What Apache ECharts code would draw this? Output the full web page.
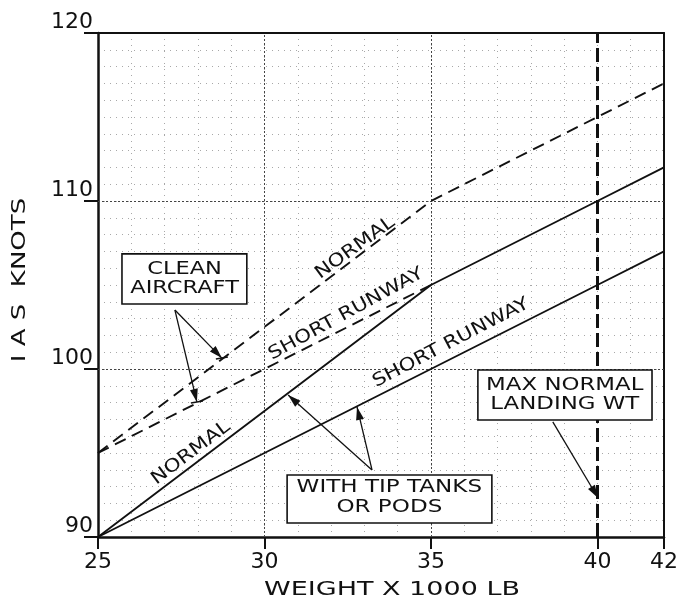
<!DOCTYPE html>
<html><head><meta charset="utf-8">
<script src="https://cdn.jsdelivr.net/npm/echarts@6/dist/echarts.min.js"></script>
<style>html,body{margin:0;padding:0;background:#fff}#c{width:682px;height:608px}</style>
</head><body><div id="c"></div>
<script>
// ---- data ----
const weights = [25, 30, 35, 40, 42];            // x 1000 lb
const cleanNormal = [95, 102.5, 110, 115, 117];  // clean aircraft, normal (dashed)
const cleanShortWeights = [25, 30, 35];
const cleanShort = [95, 100, 105];               // clean aircraft, short runway (dashed)
const tipNormal = [90, 97.5, 105, 110, 112];     // tip tanks/pods, normal (solid)
const tipShort = [90, 95, 100, 105, 107];        // tip tanks/pods, short runway (solid)
const xTickLabels = [25, 30, 35, 40, 42];
const yTickLabels = [90, 100, 110, 120];
const majorX = [30, 35];
const majorY = [100, 110];
const maxLandingWt = 40;

const FONT = 'DejaVu Sans';
const INK = '#111';
const chart = echarts.init(document.getElementById('c'));
const pairs = (xs, ys) => xs.map((x, i) => [x, ys[i]]);

const minorLine = { show: true, lineStyle: { color: '#a8a8a8', width: 1, type: [1, 5] } };
const majorStyle = { color: '#444', width: 1, type: [2, 2] };

const markData = majorX.map(v => ({ xAxis: v, lineStyle: majorStyle }))
  .concat(majorY.map(v => ({ yAxis: v, lineStyle: majorStyle })))
  .concat([{ xAxis: maxLandingWt, lineStyle: { color: INK, width: 3, type: [14, 5] } }]);

chart.setOption({
  animation: false,
  backgroundColor: '#fff',
  grid: { left: 98, right: 18, top: 33, bottom: 71 },
  xAxis: [{
    type: 'value', min: 25, max: 42, interval: 1, position: 'bottom',
    axisLine: { lineStyle: { color: INK, width: 2.5 } },
    axisTick: { show: true, customValues: xTickLabels, length: 12, lineStyle: { color: INK, width: 2 } },
    axisLabel: { customValues: xTickLabels, fontSize: 22, fontFamily: FONT, color: INK, margin: 14 },
    splitLine: { show: false }
  }, {
    type: 'value', min: 25, max: 42, interval: 1, position: 'top',
    axisLine: { show: true, lineStyle: { color: INK, width: 2 } },
    axisTick: { show: false }, axisLabel: { show: false }, splitLine: minorLine
  }],
  yAxis: [{
    type: 'value', min: 90, max: 120, interval: 1, position: 'left',
    axisLine: { show: true, lineStyle: { color: INK, width: 2.5 } },
    axisTick: { show: true, customValues: yTickLabels, length: 14, lineStyle: { color: INK, width: 2 } },
    axisLabel: { customValues: yTickLabels, fontSize: 22, fontFamily: FONT, color: INK, margin: 5, verticalAlign: 'bottom' },
    splitLine: { show: false }
  }, {
    type: 'value', min: 90, max: 120, interval: 1, position: 'right',
    axisLine: { show: true, lineStyle: { color: INK, width: 2 } },
    axisTick: { show: false }, axisLabel: { show: false }, splitLine: minorLine
  }],
  series: [
    { name: 'Clean normal', type: 'line', data: pairs(weights, cleanNormal), symbol: 'none',
      lineStyle: { color: INK, width: 1.9, type: [12, 7] }, z: 5 },
    { name: 'Clean short runway', type: 'line', data: pairs(cleanShortWeights, cleanShort), symbol: 'none',
      lineStyle: { color: INK, width: 1.9, type: [12, 7] }, z: 5 },
    { name: 'Tip tanks normal', type: 'line', data: pairs(weights, tipNormal), symbol: 'none',
      lineStyle: { color: INK, width: 1.9 }, z: 5 },
    { name: 'Tip tanks short runway', type: 'line', data: pairs(weights, tipShort), symbol: 'none',
      lineStyle: { color: INK, width: 1.9 }, z: 5,
      markLine: { silent: true, symbol: 'none', label: { show: false }, data: markData } }
  ]
});

// ---- annotations (anchored in data coordinates) ----
function P(pt) { return chart.convertToPixel({ xAxisIndex: 0, yAxisIndex: 0 }, pt); }
const g = [];
function text(str, at, size, sx, angle) {
  const p = P(at);
  g.push({ type: 'text', x: p[0], y: p[1], rotation: (angle || 0) * Math.PI / 180, scaleX: sx, z: 120,
    style: { text: str, fontSize: size, fontFamily: FONT, fill: INK, align: 'center', verticalAlign: 'middle' } });
}
function box(c1, c2) {
  const a = P(c1), b = P(c2);
  g.push({ type: 'rect', z: 110, shape: { x: a[0], y: a[1], width: b[0] - a[0], height: b[1] - a[1] },
    style: { fill: '#fff', stroke: INK, lineWidth: 1.6 } });
}
function arrow(from, to, bar) {
  const a = P(from), b = P(to);
  g.push({ type: 'line', z: 115, shape: { x1: a[0], y1: a[1], x2: b[0], y2: b[1] }, style: { stroke: INK, lineWidth: 1.3 } });
  const dx = b[0] - a[0], dy = b[1] - a[1], L = Math.hypot(dx, dy), ux = dx / L, uy = dy / L;
  const hl = 13, hw = 4;
  const bx = b[0] - ux * hl, by = b[1] - uy * hl;
  g.push({ type: 'polygon', z: 116, shape: { points: [[b[0], b[1]], [bx - uy * hw, by + ux * hw], [bx + uy * hw, by - ux * hw]] },
    style: { fill: INK } });
  if (bar) g.push({ type: 'line', z: 116, shape: { x1: b[0] - 6, y1: b[1] + 1, x2: b[0] + 6, y2: b[1] - 1 }, style: { stroke: INK, lineWidth: 1.6 } });
}

// line labels
text('NORMAL', [32.72, 107.2], 18, 1.2, 36);
text('SHORT RUNWAY', [32.45, 103.27], 18, 1.2, 28.7);
text('NORMAL', [27.79, 95.0], 18, 1.2, 37);
text('SHORT RUNWAY', [35.6, 101.55], 18, 1.2, 27.5);

// clean aircraft
box([25.72, 106.85], [29.47, 103.87]);
text('CLEAN', [27.6, 105.95], 18, 1.25, 0);
text('AIRCRAFT', [27.6, 104.82], 18, 1.25, 0);
arrow([27.31, 103.51], [28.72, 100.65], true);
arrow([27.31, 103.51], [27.97, 98.04], true);

// tip tanks
box([30.68, 93.69], [36.83, 90.83]);
text('WITH TIP TANKS', [33.75, 92.98], 18, 1.28, 0);
text('OR PODS', [33.75, 91.79], 18, 1.28, 0);
arrow([33.23, 93.99], [30.71, 98.45], false);
arrow([33.23, 93.99], [32.78, 97.74], false);

// max normal landing weight
box([36.41, 99.94], [41.64, 96.96]);
text('MAX NORMAL', [39.02, 99.05], 18, 1.27, 0);
text('LANDING WT', [39.02, 97.92], 18, 1.27, 0);
arrow([38.66, 96.85], [40.02, 92.32], false);

// axis names
g.push({ type: 'text', x: 392, y: 590, scaleX: 1.35, z: 120,
  style: { text: 'WEIGHT X 1000 LB', fontSize: 20, fontFamily: FONT, fill: INK, align: 'center', verticalAlign: 'middle' } });
g.push({ type: 'text', x: 20, y: 280, scaleX: 1.3, rotation: Math.PI / 2, z: 120,
  style: { text: 'I A S  KNOTS', fontSize: 20, fontFamily: FONT, fill: INK, align: 'center', verticalAlign: 'middle' } });

chart.setOption({ graphic: { elements: g } });
</script></body></html>
